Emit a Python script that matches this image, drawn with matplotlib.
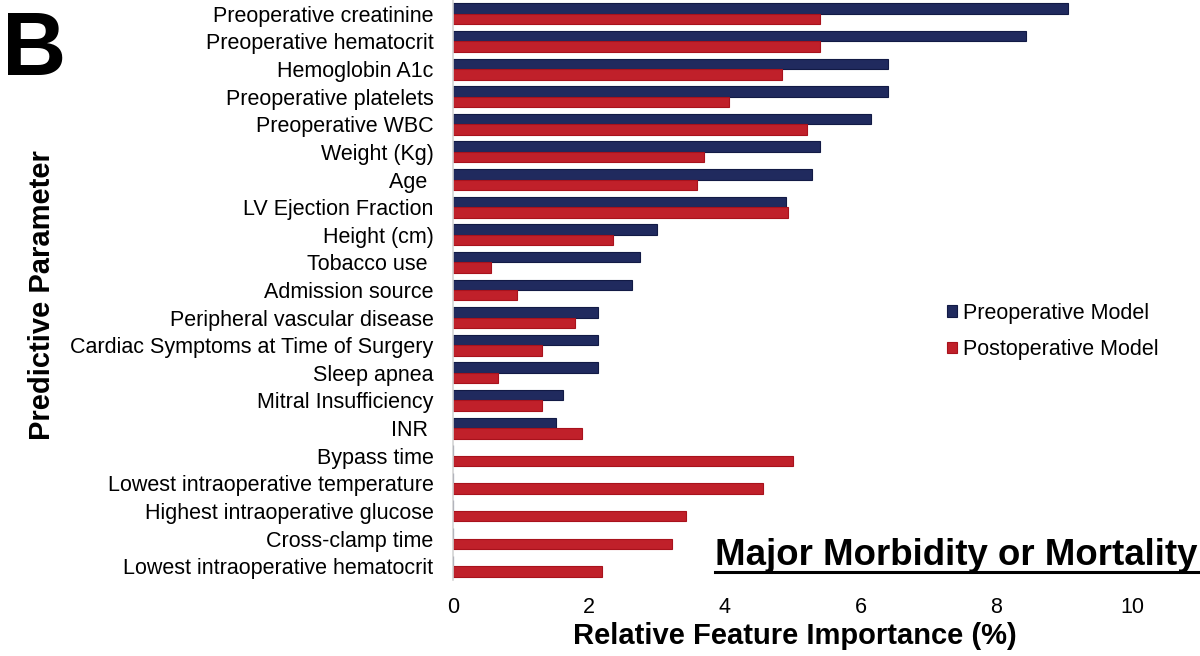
import matplotlib
matplotlib.use('Agg')
import matplotlib.pyplot as plt
import numpy as np
from matplotlib.lines import Line2D

# Feature names (top to bottom)
features = [
    'Preoperative creatinine', 'Preoperative hematocrit', 'Hemoglobin A1c',
    'Preoperative platelets', 'Preoperative WBC', 'Weight (Kg)', 'Age ',
    'LV Ejection Fraction', 'Height (cm)', 'Tobacco use ', 'Admission source',
    'Peripheral vascular disease', 'Cardiac Symptoms at Time of Surgery',
    'Sleep apnea', 'Mitral Insufficiency', 'INR ', 'Bypass time',
    'Lowest intraoperative temperature', 'Highest intraoperative glucose',
    'Cross-clamp time', 'Lowest intraoperative hematocrit',
]
# Relative feature importance (%)
preop = [9.06, 8.44, 6.41, 6.41, 6.16, 5.41, 5.28, 4.91, 3.01, 2.76, 2.63,
         2.13, 2.13, 2.13, 1.62, 1.51, 0, 0, 0, 0, 0]
postop = [5.40, 5.40, 4.84, 4.07, 5.21, 3.69, 3.60, 4.94, 2.35, 0.56, 0.94,
          1.79, 1.31, 0.66, 1.31, 1.90, 5.01, 4.56, 3.43, 3.22, 2.19]
xticks = [0, 2, 4, 6, 8, 10]

navy = '#202A5E'
red = '#C0202A'

plt.rcParams['font.family'] = ['Liberation Sans', 'DejaVu Sans']

fig = plt.figure(figsize=(12, 6.56), dpi=100)
ax = fig.add_axes([453/1200, 1 - 580/656, 747/1200, 580/656])

y = np.arange(len(features))
h = 0.38
pre_bars = ax.barh(y - h/2, preop, height=h, color=navy, edgecolor='#121a45',
                   linewidth=0.8, label='Preoperative Model')
post_bars = ax.barh(y + h/2, postop, height=h, color=red, edgecolor='#a8121c',
                    linewidth=0.8, label='Postoperative Model')

ax.set_ylim(len(features) - 0.5, -0.5)
ax.set_xlim(0, 11)
ax.set_yticks(y)
ax.set_yticklabels(features, fontsize=15.5)
ax.set_xticks(xticks)
ax.set_xticklabels([str(t) for t in xticks], fontsize=15.5)
ax.tick_params(axis='both', length=0)
ax.tick_params(axis='y', pad=14)
ax.tick_params(axis='x', pad=12)

for s in ['top', 'right', 'bottom']:
    ax.spines[s].set_visible(False)
ax.spines['left'].set_color('#d4d4d4')
ax.spines['left'].set_linewidth(1.2)

ax.set_xlabel('Relative Feature Importance (%)', fontsize=21, fontweight='bold')
ax.xaxis.set_label_coords((795 - 453) / 747, -56 / 580)
ax.xaxis.label.set_va('center')
ax.set_ylabel('Predictive Parameter', fontsize=21, fontweight='bold')
ax.yaxis.set_label_coords((42 - 453) / 747, (580 - 295) / 580)
ax.yaxis.label.set_va('center')

leg = ax.legend(loc='upper left', bbox_to_anchor=((947 - 453) / 747, (580 - 303) / 580),
                frameon=False, fontsize=15.5, handlelength=0.46, handleheight=0.46,
                handletextpad=0.3, labelspacing=0.7, borderpad=0, borderaxespad=0)

fig.text(0.002, 1 - 52/656, 'B', fontsize=64, fontweight='bold', va='center', ha='left')

title = fig.text(715/1200, 1 - 565/656, 'Major Morbidity or Mortality', fontsize=26.4,
                 fontweight='bold', va='baseline', ha='left')
fig.canvas.draw()
bb = title.get_window_extent().transformed(fig.transFigure.inverted())
fig.add_artist(Line2D([bb.x0, bb.x1], [1 - 572/656, 1 - 572/656], color='black',
                      linewidth=2.2, transform=fig.transFigure))

fig.savefig('out.png', dpi=100)
